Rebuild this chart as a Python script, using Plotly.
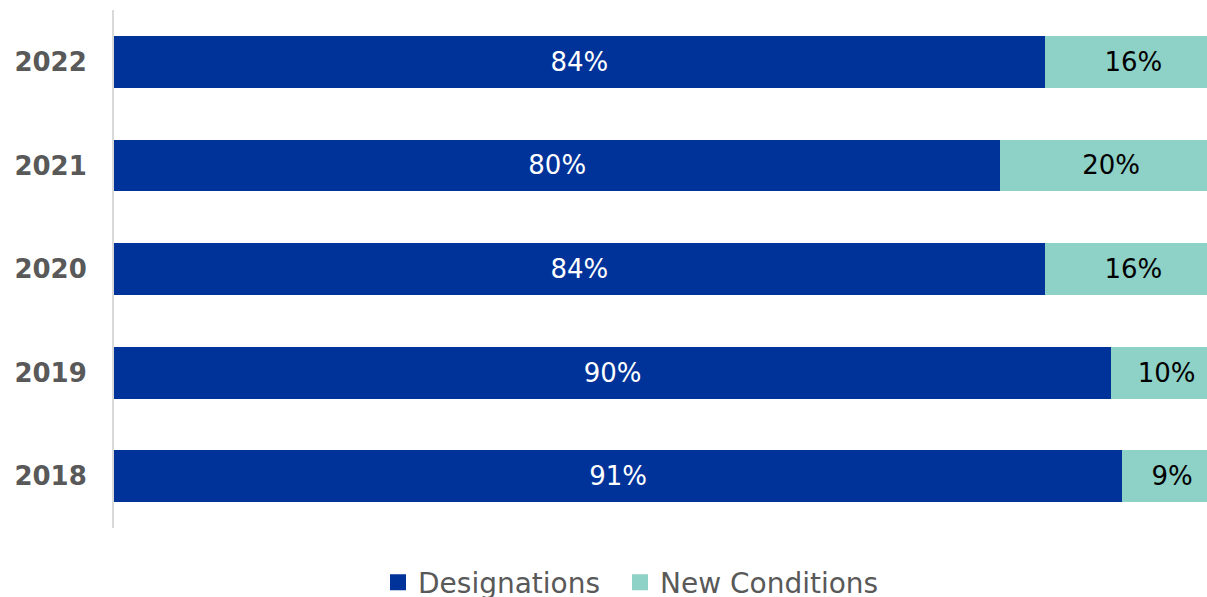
import plotly.graph_objects as go

years = ["2022", "2021", "2020", "2019", "2018"]
designations = [84, 80, 84, 90, 91]
new_conditions = [16, 20, 16, 10, 9]

series_names = ["Designations", "New Conditions"]
series_colors = ["#003399", "#8ED1C6"]

FONT = "DejaVu Sans"
W, H = 1207, 597

fig = go.Figure()
fig.add_trace(go.Bar(
    y=years, x=designations, name=series_names[0], orientation="h",
    marker=dict(color=series_colors[0], line=dict(width=0)),
    texttemplate="%{x}%", textposition="inside", insidetextanchor="middle",
    textfont=dict(color="white", size=26, family=FONT),
    constraintext="none", showlegend=False, hoverinfo="skip",
))
fig.add_trace(go.Bar(
    y=years, x=new_conditions, name=series_names[1], orientation="h",
    marker=dict(color=series_colors[1], line=dict(width=0)),
    texttemplate="%{x}%", textposition="inside", insidetextanchor="middle",
    textfont=dict(color="black", size=26, family=FONT),
    constraintext="none", showlegend=False, hoverinfo="skip",
))
# legend entries with larger square swatches, each in its own legend box
legend_ids = ["legend", "legend2"]
for name, color, lg in zip(series_names, series_colors, legend_ids):
    fig.add_trace(go.Scatter(
        x=[None], y=[None], mode="markers", name=name,
        marker=dict(symbol="square", size=16, color=color),
        showlegend=True, legend=lg,
    ))

legend_style = dict(
    orientation="h", xref="container", yref="container",
    xanchor="left", y=0.024, yanchor="middle",
    font=dict(family=FONT, size=28, color="#595959"),
    itemwidth=30,
)

fig.update_layout(
    barmode="stack",
    bargap=0.5,
    width=W, height=H,
    margin=dict(l=114, r=0, t=10, b=69),
    paper_bgcolor="white", plot_bgcolor="white",
    font=dict(family=FONT, color="#595959"),
    xaxis=dict(range=[0, 98.65], visible=False, showgrid=False, zeroline=False),
    yaxis=dict(
        type="category", categoryorder="array", categoryarray=years,
        autorange="reversed", showgrid=False, zeroline=False,
        showline=True, linecolor="#d9d9d9", linewidth=2,
        ticks="", ticklabelstandoff=20,
        tickfont=dict(family=FONT, size=26, color="#595959", weight="bold"),
    ),
    legend=dict(x=378 / W, **legend_style),
    legend2=dict(x=620 / W, **legend_style),
    showlegend=True,
)

fig.write_html(
    "out.html",
    config={"displayModeBar": False},
    post_script="document.body.style.margin='0';document.body.style.padding='0';document.body.style.overflow='hidden';",
)
